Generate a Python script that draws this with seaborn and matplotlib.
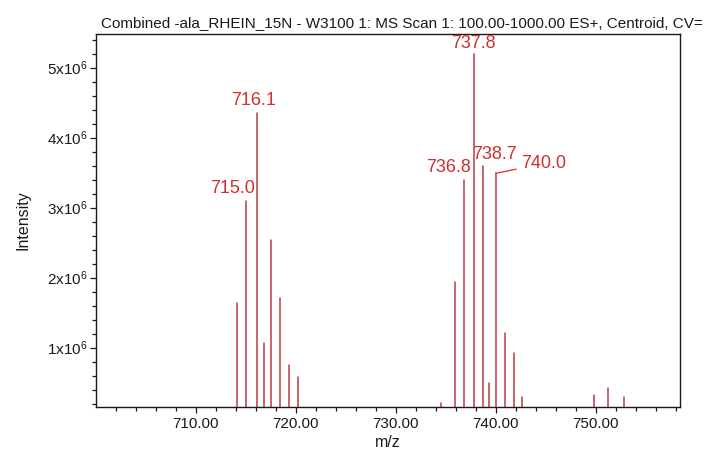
import matplotlib
matplotlib.use("Agg")
import matplotlib.pyplot as plt
from matplotlib.ticker import MultipleLocator, FuncFormatter
import pandas as pd
import seaborn as sns

# Centroided peaks: m/z and intensity (counts)
mz = [714.1, 715.0, 716.1, 716.8, 717.5, 718.4, 719.3, 720.2,
      734.5, 735.9, 736.8, 737.8, 738.7, 739.3, 740.0, 740.9, 741.8, 742.6,
      749.8, 751.2, 752.8]
intensity = [1.64e6, 3.10e6, 4.35e6, 1.06e6, 2.54e6, 1.71e6, 0.75e6, 0.58e6,
             0.21e6, 1.94e6, 3.39e6, 5.20e6, 3.59e6, 0.49e6, 3.49e6, 1.21e6, 0.93e6, 0.29e6,
             0.33e6, 0.43e6, 0.30e6]

# Peaks that carry an m/z label
labelled_mz = [715.0, 716.1, 736.8, 737.8, 738.7, 740.0]
peak_labels = ["715.0", "716.1", "736.8", "737.8", "738.7", "740.0"]

title = "Combined -ala_RHEIN_15N - W3100 1: MS Scan 1: 100.00-1000.00 ES+, Centroid, CV="
x_label = "m/z"
y_label = "Intensity"

sns.set_theme(style="ticks")
plt.rcParams["font.family"] = ["Liberation Sans", "DejaVu Sans"]
plt.rcParams["mathtext.default"] = "regular"

stem_color = "#bb3a44"
label_color = "#cc3030"
ink = "#1a1a1a"

fig = plt.figure(figsize=(7.05, 4.55), dpi=100)
ax = fig.add_axes([96 / 705, 1 - 407 / 455, (680 - 96) / 705, (407 - 34) / 455])

# Each peak becomes a vertical stick from the baseline to its intensity
rows = []
for i, (m, v) in enumerate(zip(mz, intensity)):
    rows.append({"peak": i, "mz": m, "value": 0.0})
    rows.append({"peak": i, "mz": m, "value": v})
sticks = pd.DataFrame(rows)

sns.lineplot(data=sticks, x="mz", y="value", units="peak", estimator=None,
             color=stem_color, lw=1.1, ax=ax, legend=False)

ax.set_xlim(700.05, 758.4)
ax.set_ylim(0.152e6, 5.48e6)

ax.xaxis.set_major_locator(MultipleLocator(10))
ax.xaxis.set_minor_locator(MultipleLocator(2))
ax.xaxis.set_major_formatter(FuncFormatter(lambda v, p: f"{v:.2f}"))
ax.yaxis.set_major_locator(MultipleLocator(1e6))
ax.yaxis.set_minor_locator(MultipleLocator(0.2e6))
ax.yaxis.set_major_formatter(FuncFormatter(lambda v, p: f"{int(round(v / 1e6))}x10$^6$"))

ax.tick_params(axis="both", which="both", direction="out", color=ink, width=0.9)
ax.tick_params(axis="both", which="major", length=4, labelcolor=ink, pad=3)
ax.tick_params(axis="x", which="major", labelsize=11)
ax.tick_params(axis="y", which="major", labelsize=11, pad=2)
ax.tick_params(axis="both", which="minor", length=3)

for s in ax.spines.values():
    s.set_visible(True)
    s.set_color(ink)
    s.set_linewidth(1.0)

ax.set_xlabel(x_label, fontsize=11.5, color=ink, labelpad=3)
ax.set_ylabel(y_label, fontsize=11.5, color=ink)
ax.yaxis.set_label_coords((31 - 96) / 584, 0.5)

# Peak annotations (offsets in points from the top of each stick)
offsets = {
    "715.0": (-9.5, 9, "center"),
    "716.1": (-2, 9, "center"),
    "736.8": (-11, 9.5, "center"),
    "737.8": (0, 7, "center"),
    "738.7": (8, 8.5, "center"),
}
peak_top = dict(zip(mz, intensity))
for m, text in zip(labelled_mz, peak_labels):
    top = peak_top[m]
    if text in offsets:
        dx, dy, ha = offsets[text]
        ax.annotate(text, xy=(m, top), xytext=(dx, dy), textcoords="offset points",
                    ha=ha, va="center", fontsize=13, color=label_color,
                    annotation_clip=False)
    else:
        ax.annotate(text, xy=(m, top), xytext=(18, 7), textcoords="offset points",
                    ha="left", va="center", fontsize=13, color=label_color,
                    annotation_clip=False,
                    arrowprops=dict(arrowstyle="-", color=label_color, lw=0.9,
                                    shrinkA=1, shrinkB=0, connectionstyle="arc3"))

fig.text(101 / 705, 1 - 23 / 455, title, ha="left", va="center", fontsize=11, color=ink)

fig.savefig("out.png", dpi=100)
